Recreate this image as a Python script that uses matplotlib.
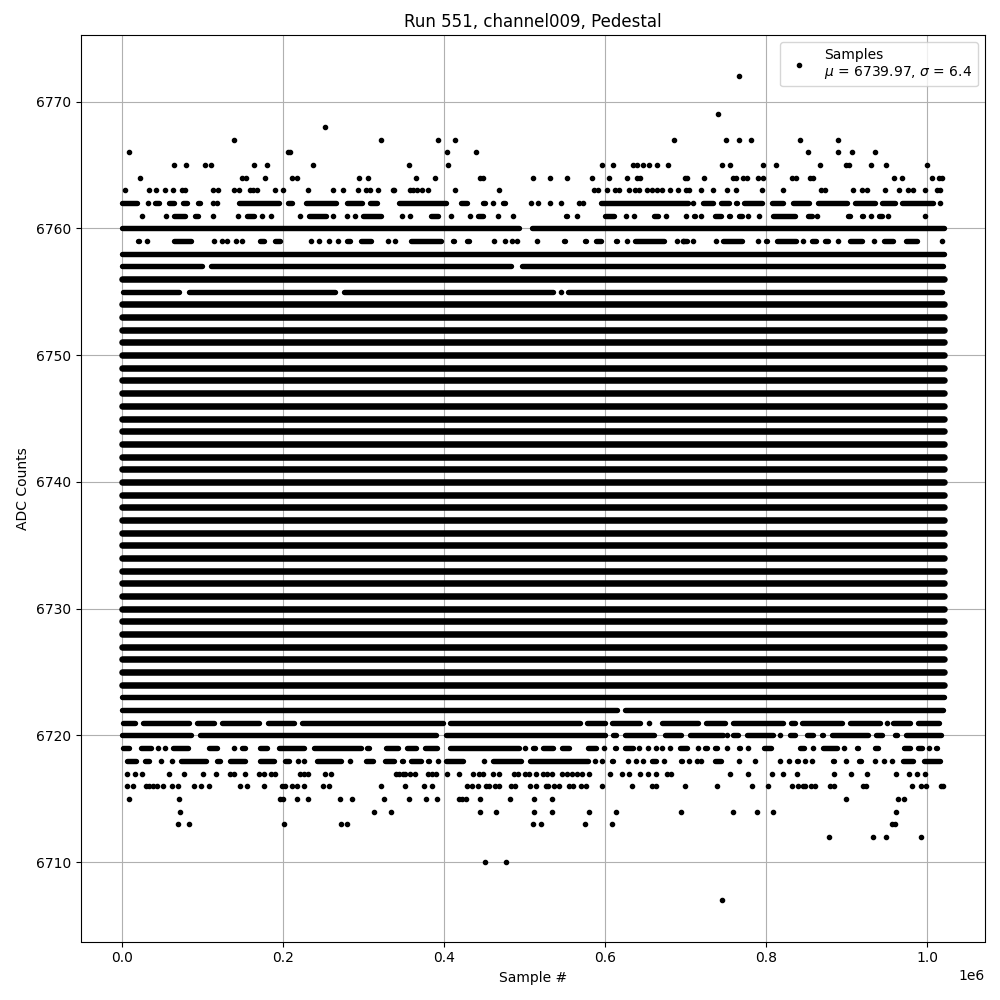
import matplotlib
matplotlib.use('Agg')
import matplotlib.pyplot as plt

# positions are thousands of samples
# a number is one point, a (start, end) pair is a stretch where points merge into a bar
x_6772 = [766]
x_6769 = [741]
x_6768 = [253]
x_6767 = [139, 322.5, 392.5, 413.7, 685.7, 751, 766, 782, 842, 890]
x_6766 = [9.5, 207, 209, 404, 440, 852, 890, 907, 935]
x_6765 = [65, 80, 103, 111, 165, 181, 238, 356.5, 405, 596, 610, 635, 640, 648, 655, 664.5, 679,
          745, 755, 796, 813, 867, 899, 903, 931, 949, 999.5]
x_6764 = [23, 150, 155, 178, 212, 218, 295, 306, 365, 389, 445, 449, 510.5, 532, 553, 584, 605, 627,
          640.5, 644, 699, 702, 722.6, 759, 763, 771, 776, 790, 796, 832, 837, 855, 859, 958.6, 968.5,
          1006, 1014.5, 1019]
x_6763 = [4.6, 34, 43, 54, 64, 74.5, 79, 114, 120, 140, 146, 159, 163, 168, 190, 200, 232, 263, 275,
          293, 303, 308, 318, 337, 338, 358, 362, 367, 373, 380, 414, 468, 586, 591, 603, 612, 617, 630,
          637, 642, 652.5, 659, 665, 671, 681, 691, 701, 704, 719, 734, 752, 763, 795, 821, 868, 873,
          908, 919, 926, 948, 965, 976, 982, 997, 1013, 1016]
x_6762 = [(-3, 22), 33, (38.5, 50), (56, 68), (72.5, 85), (91, 100.6), 114, 118, (123, 129), (143, 199),
          (203, 215), (226, 270), (277, 302), (305, 320), (341.5, 406), (418.6, 432), (445.5, 454.6), 461,
          (472.5, 476.6), (482, 488), 508.5, 517, 531.6, 546, 567.7, 573, (592.5, 707), 710, (719, 738),
          (741, 758), (759.5, 768), (770, 798), (804, 825), (830, 857), (861, 904), (907, 939), (941, 963.5),
          (966, 1011), 1016]
x_6761 = [25.7, 55.5, (62, 81.5), (91.5, 95), (99, 106), 114, 145, (153, 168), 174, 186, (205, 211), 222,
          (229, 257), 263, 280, 290, (297, 326), 348, 358, (365, 371), (381, 396), 409, 432, (439, 452),
          467, 486, (550, 555), 566, (597, 615), 626, 636, (645, 652.5), (657.5, 669), 676.5, (689, 695),
          701, (708, 715), 720, (734, 748), (752, 758), (763, 773), 778, 792, (806, 839), (849, 860), 863,
          (898, 908), (916, 924), 930, (937, 947), 952, (962, 968), (981, 987), 997.5, (1009, 1016)]
x_6760 = [(-3, 497), (506, 1024)]
x_6759 = [(16.5, 25), 32, (62, 89), 115, 125, 131, 142, 150, (168.5, 180), (187.5, 200), 235.5, 245, 258,
          269, (277, 287), (294, 313), 331, 340, (356.5, 400), (408, 416.5), (425, 435), (451, 457), 463,
          476, 485, 491, 515.5, (547, 553), (572, 580), (586, 599), (611, 619), 628, (634, 677), 690, 697,
          (694, 705), 710, (721, 728), 738, (744, 773), (777, 784), 790, (798, 804), (810, 841), 845.5,
          (854, 865), (870, 880), 890, (901, 922), 934, (943, 961), (971, 991), (1005, 1012), 1019]
x_6757 = [(-3, 103), (108, 487), (494, 1023)]
x_6755 = [(-1, 74), (80, 268), (273, 539), 545, (551, 1022)]
x_6722 = [(-3, 619), (622, 1023)]
x_6721 = [(-2, 19.5), (23, 87), (90, 118), (121, 174), (179, 217), (221, 402), (405, 572), (575, 603),
          (605, 647), 655, (668, 719), (722, 752), (756, 824), (828, 839), (842, 898), (901, 945), 950,
          (955, 982), (985, 1018)]
x_6720 = [(-3, 89), (94, 394), (399, 603), (607, 617), (622, 664), (671, 698), (703, 750), 752, (756, 769),
          (773, 812), 818, (827, 840), (848, 862), (866, 874), (879, 930), (933, 947), (957, 966), (970, 1021)]
x_6719 = [(-2, 12), (20.5, 40), 45.5, 54, (60, 86), (105.5, 122), 140, (146, 156.5), (168, 184), (192.5, 230),
          (236, 300), (302, 310), (325, 346), (351, 369), (373, 395), (404, 497), 501, (508, 516), (520, 539.5),
          (543, 559), (563, 570), (576, 592.5), 599, (609, 617), (622, 638), 642, 653, 663, 671, 681, (690, 705),
          716, (723, 727.5), (733, 742), 752, (763, 771), 778, (794, 810), (817, 823), (839, 851), 859, (868, 891),
          896.5, (910, 917), (932.5, 942), (957, 963.5), (968.5, 982), (986, 997), 1002, (1008, 1016)]
x_6718 = [(4, 21), (26, 37), 49, 63, (70, 108), (115, 126), (131, 157), (168, 192.5), (199.5, 211), 219, 227,
          (239, 276), 283, (300, 315), (324, 342), (346, 352), (356, 375), (379, 384), 392.5, (399, 427), 450,
          (458, 499), (504, 582), 587.5, 597, (606, 614), 628.5, 639, 648, (655, 667), 673, (692, 698), 705, 714,
          719, (734, 748), 766, 787, 817, 829, (837, 842), 848, 857, (881, 887), 899, (915, 919), 936, 946, 956,
          (967, 985.5), (992.5, 1019)]
x_6717 = [7, 17, 25.7, 59, 78, 101, 117.6, 135, 140, 153, 171, 177, 186, 190, 221, 226, 231, 253, 260, 341,
          345, 349, 352, 358, 364, 381, 385.5, 390, 404, 418.6, 436, 443.5, 449, 461, 468, 487, 492, 500.5, 506,
          515, 523, 528, 534, 547, 553, 559, 566, 572, 580, 606, 621, 630, 644, 653, 663, 677, 682, 755, 778, 807,
          821, 839, 884, 906, 925, 961, 978, 987, 997]
x_6716 = [7, 13.7, 30, 34, 38.5, 43.5, 52, 62, 70, 90, 98.5, 108, 147, 156, 177, 199.5, 203, 211, 218, 226, 250,
          258, 322.5, 351.5, 376, 385, 428.5, 435, 442, 452, 456, 463.5, 468, 483, 488, 507, 514, 527.5, 530, 537,
          543, 555, 561, 570, 576, 596, 634, 659, 663, 699, 739, 783, 802, 832, 840, 846, 849, 856, 861, 879, 884,
          920, 924, 981, 992.5, 999, 1017, 1020]
x_6715 = [9.5, 71.6, 196.6, 200, 218, 232, 271.6, 286.5, 326, 356.5, 378, 391, 418.6, 423, 428, 445, 482, 512, 534,
          900, 964, 972]
x_6714 = [73, 314, 335, 445, 465, 512, 535, 580, 613.6, 694, 759, 789, 808.5, 962]
x_6713 = [70, 84, 202, 273, 280, 510.5, 520.5, 575, 608.6, 957, 960]
x_6712 = [878, 932.5, 949, 993]
x_6710 = [451, 477]
x_6707 = [745]

# rows that are one unbroken band from end to end
solid_levels = list(range(6724, 6755)) + [6756]
thin_solid_levels = [6723, 6758]
solid_start = 0
solid_end = 1021

title = 'Run 551, channel009, Pedestal'
x_label = 'Sample #'
y_label = 'ADC Counts'
legend_label = 'Samples\n$\\mu$ = 6739.97, $\\sigma$ = 6.4'

rows = {6772: x_6772, 6769: x_6769, 6768: x_6768, 6767: x_6767, 6766: x_6766, 6765: x_6765, 6764: x_6764,
        6763: x_6763, 6762: x_6762, 6761: x_6761, 6760: x_6760, 6759: x_6759, 6757: x_6757, 6755: x_6755,
        6722: x_6722, 6721: x_6721, 6720: x_6720, 6719: x_6719, 6718: x_6718, 6717: x_6717, 6716: x_6716,
        6715: x_6715, 6714: x_6714, 6713: x_6713, 6712: x_6712, 6710: x_6710, 6707: x_6707}

fig, ax = plt.subplots(figsize=(10, 10), dpi=100)

# stretches were read at their outer edge, the round cap adds the marker radius back
cap = 3.3
bar_width = 3.9
solid_width = 4.7

dot_x = []
dot_y = []
for level, row in rows.items():
    for item in row:
        if isinstance(item, tuple):
            ax.plot([(item[0] + cap) * 1000, (item[1] - cap) * 1000], [level, level], color='k',
                    lw=bar_width, solid_capstyle='round')
        else:
            dot_x.append(item * 1000)
            dot_y.append(level)

for level in solid_levels:
    ax.plot([solid_start * 1000, solid_end * 1000], [level, level], color='k',
            lw=solid_width, solid_capstyle='round')
for level in thin_solid_levels:
    ax.plot([solid_start * 1000, solid_end * 1000], [level, level], color='k',
            lw=bar_width, solid_capstyle='round')

ax.plot(dot_x, dot_y, 'k.', label=legend_label)

ax.set_title(title)
ax.set_xlabel(x_label)
ax.set_ylabel(y_label)
ax.set_xlim(-51000, 1072000)
ax.set_ylim(6703.75, 6775.25)
ax.grid(True)
ax.legend(loc='upper right')
fig.subplots_adjust(left=0.0805, right=0.985, top=0.965, bottom=0.0585)
fig.savefig('out.png')
